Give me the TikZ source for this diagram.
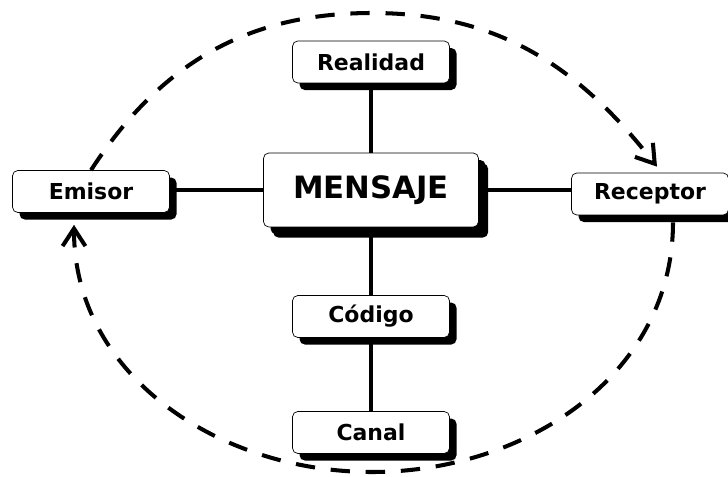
\documentclass[tikz,border=0pt]{standalone}
\usepackage{fontspec}
\setmainfont{DejaVu Sans}
\usetikzlibrary{shadows,arrows.meta}

\begin{document}
\begin{tikzpicture}[x=0.02cm,y=0.02cm,
      caja/.style={draw,thin,rounded corners=3pt,fill=white,inner sep=0pt,
        minimum width=3.14cm,minimum height=0.84cm,font=\bfseries\fontsize{12.5}{14}\selectfont,
        drop shadow={shadow xshift=4pt,shadow yshift=-4pt,opacity=1,fill=black}},
      grande/.style={caja,minimum width=4.3cm,minimum height=1.48cm,font=\bfseries\fontsize{17.5}{20}\selectfont,
        drop shadow={shadow xshift=5.5pt,shadow yshift=-6pt,opacity=1,fill=black}},
      enlace/.style={line width=2.2pt},
      ciclo/.style={line width=2.3pt,dash pattern=on 11pt off 9pt,
        -{Straight Barb[length=10pt,width=13pt,line width=2.3pt]}}]
      \useasboundingbox (0,0) rectangle (728,477);

      \coordinate (arriba) at (372,464);
      \coordinate (abajo) at (372,5);

      \node[grande] (mensaje) at (371,287) {MENSAJE};
      \node[caja] (emisor) at (91,285.5) {Emisor};
      \node[caja] (receptor) at (650,283) {Receptor};
      \node[caja] (realidad) at (371,415) {Realidad};
      \node[caja] (codigo) at (371,160.5) {Código};
      \node[caja] (canal) at (371,44.5) {Canal};

      \draw[enlace] (emisor.east |- mensaje.west) -- (mensaje.west);
      \draw[enlace] (mensaje.east) -- (mensaje.east -| receptor.west);
      \draw[enlace] (realidad) -- (mensaje);
      \draw[enlace] (mensaje) -- (codigo);
      \draw[enlace] (codigo) -- (canal);

      \draw[ciclo] (emisor.north) to[out=57,in=180] (arriba)
         to[out=0,in=128] ([shift={(7,6)}]receptor.north);
      \draw[ciclo] ([shift={(23,-7)}]receptor.south) to[out=-90,in=0] (abajo)
         to[out=180,in=-90] ([shift={(-17,-12)}]emisor.south);
   \end{tikzpicture}
\end{document}
